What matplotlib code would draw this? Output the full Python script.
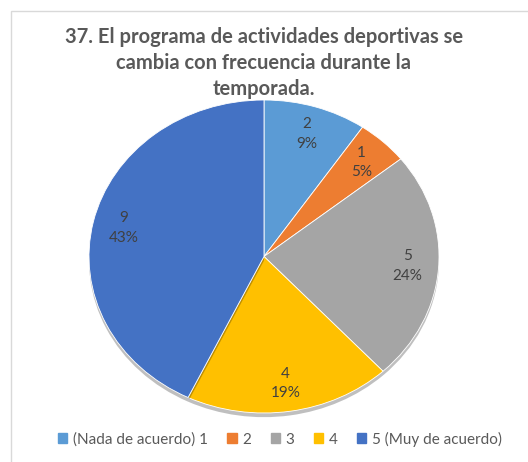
import matplotlib.pyplot as plt
from matplotlib.patches import Rectangle
import matplotlib.patheffects as pe

categories = ["(Nada de acuerdo) 1", "2", "3", "4", "5 (Muy de acuerdo)"]
counts = [2, 1, 5, 4, 9]
pct_labels = ["9%", "5%", "24%", "19%", "43%"]
colors = ["#5B9BD5", "#ED7D31", "#A5A5A5", "#FFC000", "#4472C4"]
title = "37. El programa de actividades deportivas se\ncambia con frecuencia durante la\ntemporada."

plt.rcParams['font.family'] = ['Lato', 'DejaVu Sans']
txt = "#404040"

fig = plt.figure(figsize=(5.28, 4.62), dpi=100)
fig.patches.append(Rectangle((11 / 528, -0.1), 1.2, 1 - 11 / 462 + 0.1,
                             transform=fig.transFigure, fill=False,
                             edgecolor="#D9D9D9", linewidth=1))

# pie area is stretched (wider than tall), like the source image
ax = fig.add_axes([89 / 528, 1 - 413 / 462, 350 / 528, 313 / 462])
labels = [f"{c}\n{p}" for c, p in zip(counts, pct_labels)]
wedges, texts = ax.pie(counts, colors=colors, startangle=90, counterclock=False,
                       labels=labels, labeldistance=0.82,
                       wedgeprops=dict(edgecolor="white", linewidth=0.6),
                       textprops=dict(color=txt, fontsize=11, ha="center",
                                      va="center", linespacing=1.5))
for w in wedges:
    w.set_path_effects([pe.SimplePatchShadow(offset=(0, -3), alpha=0.25,
                                             shadow_rgbFace="#000000"),
                        pe.Normal()])
ax.set_aspect('auto')
ax.set_xlim(-1, 1)
ax.set_ylim(-1, 1)

fig.text(0.5, 1 - 63 / 462, title, ha="center", va="center", fontsize=14.5,
         fontweight="bold", color="#595959", linespacing=1.4)

handles = [Rectangle((0, 0), 1, 1, color=c) for c in colors]
fig.legend(handles, categories, loc="center", bbox_to_anchor=(0.53, 1 - 439 / 462),
           ncol=5, frameon=False, fontsize=11, handlelength=0.6,
           handleheight=0.6, handletextpad=0.35, columnspacing=1.3,
           labelcolor="#595959")

fig.savefig("out.png", dpi=100)
